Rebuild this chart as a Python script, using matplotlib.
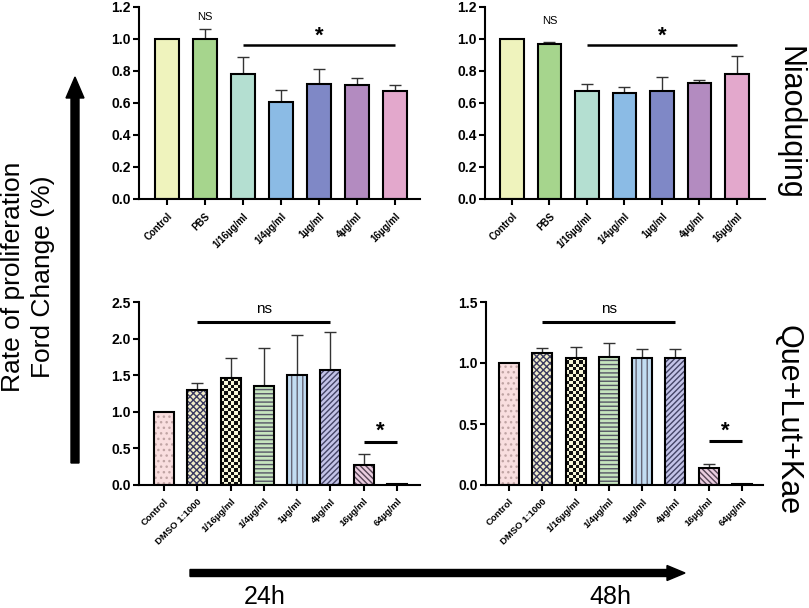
import numpy as np
import matplotlib
matplotlib.use("Agg")
import matplotlib.pyplot as plt

plt.rcParams['font.family'] = ['Liberation Sans', 'DejaVu Sans']

# data
groups_nia = ['Control', 'PBS', '1/16µg/ml', '1/4µg/ml', '1µg/ml', '4µg/ml', '16µg/ml']
nia_24 = [1.0, 1.0, 0.78, 0.605, 0.717, 0.713, 0.672]
nia_24_err = [0, 0.06, 0.11, 0.075, 0.095, 0.046, 0.043]
nia_48 = [1.0, 0.967, 0.672, 0.661, 0.674, 0.724, 0.78]
nia_48_err = [0, 0.017, 0.046, 0.042, 0.087, 0.021, 0.112]

groups_qlk = ['Control', 'DMSO 1:1000', '1/16µg/ml', '1/4µg/ml', '1µg/ml', '4µg/ml', '16µg/ml', '64µg/ml']
qlk_24 = [1.0, 1.30, 1.46, 1.35, 1.50, 1.565, 0.28, 0.015]
qlk_24_err = [0, 0.10, 0.28, 0.52, 0.55, 0.52, 0.14, 0]
qlk_48 = [1.0, 1.086, 1.043, 1.05, 1.043, 1.04, 0.14, 0.005]
qlk_48_err = [0, 0.04, 0.09, 0.11, 0.07, 0.075, 0.03, 0]

nia_colors = ['#EFF3BD', '#A6D58D', '#B4DFD1', '#8BBBE5', '#7F88C6', '#B38BC0', '#E3A8CC']
# face, hatch, hatch colour ("checker" drawn as image)
qlk_styles = [('#F9DEDF', '...', '#C0A4A4'),
              ('#F2EDC8', 'xxxxx', '#3A3A60'),
              ('#F7F6D8', 'checker', '#111111'),
              ('#C6E4BE', '----', '#555566'),
              ('#C2DCF2', '|||', '#666677'),
              ('#C3C3E8', '//////', '#444466'),
              ('#EBCDE0', '\\\\\\\\\\\\', '#554455'),
              ('#EBCDE0', '\\\\\\\\\\\\', '#554455')]

W, H = 809, 608
fig = plt.figure(figsize=(W / 100, H / 100), dpi=100)


def px_axes(x0, x1, y0, y1):
    return fig.add_axes([x0 / W, 1 - y1 / H, (x1 - x0) / W, (y1 - y0) / H])


def style_axes(ax, labels, ymax, step, fs):
    ax.set_ylim(0, ymax)
    ax.set_yticks(np.arange(0, ymax + 1e-9, step))
    ax.set_yticklabels([f"{v:.1f}" for v in np.arange(0, ymax + 1e-9, step)],
                       fontsize=10, fontweight='bold')
    ax.set_xticks(range(len(labels)))
    ax.set_xticklabels(labels, rotation=45, ha='right', rotation_mode='anchor',
                       fontsize=fs, fontweight='bold')
    for s in ['top', 'right']:
        ax.spines[s].set_visible(False)
    for s in ['left', 'bottom']:
        ax.spines[s].set_linewidth(1.5)
    ax.tick_params(width=1.5, length=4.5, pad=1.5)
    ax.tick_params(axis='x', pad=4)


def err_up(ax, x, vals, errs):
    x = np.asarray(x)
    vals = np.asarray(vals)
    errs = np.asarray(errs)
    m = errs > 0
    ax.errorbar(x[m], vals[m], yerr=[np.zeros(m.sum()), errs[m]], fmt='none',
                ecolor='#333333', elinewidth=1.0, capsize=4, capthick=1.0, zorder=1)


def sig(ax, x0, x1, y, ytxt, txt, fs, bold=False, lw=1.8):
    ax.plot([x0, x1], [y, y], color='k', lw=lw, solid_capstyle='butt', clip_on=False)
    ax.text((x0 + x1) / 2, ytxt, txt, ha='center', va='center', fontsize=fs,
            fontweight='bold' if bold else 'normal', clip_on=False)


# ---- top row: Niaoduqing
for (x0, x1, xl, vals, errs, ns_y) in [(139, 420, (-0.74, 6.66), nia_24, nia_24_err, 1.138),
                                       (485, 765, (-0.72, 6.75), nia_48, nia_48_err, 1.11)]:
    ax = px_axes(x0, x1, 7, 199)
    x = np.arange(len(groups_nia))
    err_up(ax, x, vals, errs)
    ax.bar(x, vals, width=0.62, color=nia_colors, edgecolor='k', linewidth=1.5, zorder=2)
    ax.set_xlim(*xl)
    style_axes(ax, groups_nia, 1.2, 0.2, 7)
    sig(ax, 2, 6, 0.961, 1.02, '*', 16, bold=True)
    ax.text(1, ns_y, 'NS', ha='center', va='center', fontsize=8)

# ---- bottom row: Que+Lut+Kae
for (x0, x1, xl, vals, errs, ymax, ns_line, ns_txt, st_line, st_txt) in [
        (139, 420, (-0.75, 7.69), qlk_24, qlk_24_err, 2.5, 2.223, 2.40, 0.594, 0.74),
        (486, 763, (-0.69, 7.63), qlk_48, qlk_48_err, 1.5, 1.337, 1.44, 0.357, 0.44)]:
    ax = px_axes(x0, x1, 302, 485)
    x = np.arange(len(groups_qlk))
    ax.set_xlim(*xl)
    ax.set_ylim(0, ymax)
    err_up(ax, x, vals, errs)
    for i, (face, hatch, hcol) in enumerate(qlk_styles):
        if hatch == 'checker':
            b = ax.bar(x[i], vals[i], width=0.6, color=face, linewidth=0, zorder=2)[0]
            bb = ax.transData.transform([[b.get_x(), 0], [b.get_x() + b.get_width(), b.get_height()]])
            ncol = 6
            nrow = int(round(ncol * (bb[1, 1] - bb[0, 1]) / (bb[1, 0] - bb[0, 0])))
            board = np.indices((nrow, ncol)).sum(axis=0) % 2
            im = ax.imshow(board, cmap=matplotlib.colors.ListedColormap([face, hcol]),
                           extent=[b.get_x(), b.get_x() + b.get_width(), 0, b.get_height()],
                           aspect='auto', interpolation='nearest', zorder=2.5)
            im.set_clip_path(b)
        else:
            ax.bar(x[i], vals[i], width=0.6, color=face, hatch=hatch, edgecolor=hcol,
                   linewidth=0, zorder=2)
    ax.bar(x, vals, width=0.6, color='none', edgecolor='k', linewidth=1.5, zorder=3)
    ax.set_xlim(*xl)
    style_axes(ax, groups_qlk, ymax, 0.5, 6.8)
    sig(ax, 1, 5, ns_line, ns_txt, 'ns', 11, lw=2.2)
    sig(ax, 6, 7, st_line, st_txt, '*', 16, bold=True, lw=2.2)

# ---- overlay for arrows and side labels
ov = fig.add_axes([0, 0, 1, 1], zorder=-1)
ov.set_xlim(0, W)
ov.set_ylim(H, 0)
ov.axis('off')
ov.arrow(75, 463, 0, -(463 - 77), width=8, head_width=18, head_length=21,
         length_includes_head=True, fc='k', ec='k')
ov.arrow(190, 573, 685 - 190, 0, width=7, head_width=15, head_length=18,
         length_includes_head=True, fc='k', ec='k')
ov.text(28, 277, 'Rate of proliferation\nFord Change (%)', rotation=90, ha='center',
        va='center', fontsize=19, linespacing=1.3, multialignment='center')
ov.text(265, 597, '24h', ha='center', va='center', fontsize=18)
ov.text(610, 597, '48h', ha='center', va='center', fontsize=18)
ov.text(790, 123, 'Niaoduqing', rotation=270, ha='center', va='center', fontsize=22)
ov.text(788, 420, 'Que+Lut+Kae', rotation=270, ha='center', va='center', fontsize=22)

fig.savefig('out.png', dpi=100)
